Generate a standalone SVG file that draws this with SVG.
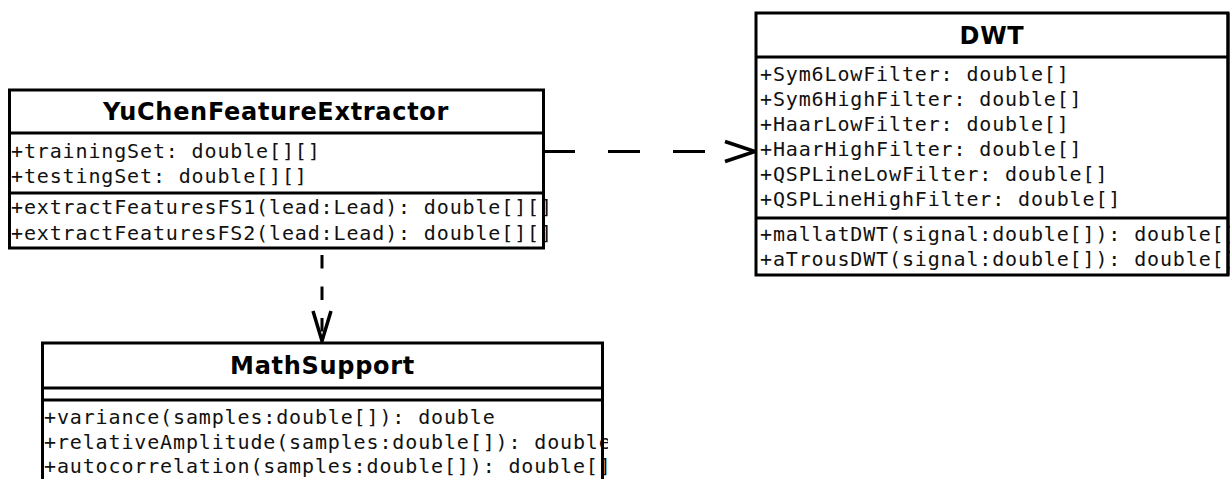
<svg xmlns="http://www.w3.org/2000/svg" width="1230" height="479" viewBox="0 0 1230 479">
<style>
.box{fill:#fff;stroke:#000;stroke-width:3}
.sep{stroke:#000;stroke-width:3}
.title{font-family:"DejaVu Sans","Liberation Sans",sans-serif;font-weight:bold;font-size:24px;text-anchor:middle;fill:#000;letter-spacing:0.7px}
.m{font-family:"DejaVu Sans Mono","Liberation Mono",monospace;font-size:20px;letter-spacing:0.86px;fill:#111}
.dep{fill:none;stroke:#000;stroke-width:3}
.head{fill:none;stroke:#000;stroke-width:3.5;stroke-linejoin:miter}
</style>
<defs>
<clipPath id="c1"><rect x="0" y="0" width="549" height="479"/></clipPath>
<clipPath id="c3"><rect x="0" y="0" width="608" height="479"/></clipPath>
</defs>
<rect width="1230" height="479" fill="#fff"/>
<g id="connectors">
<line class="dep" x1="543" y1="151.5" x2="705" y2="151.5" stroke-dasharray="32 33"/>
<polyline class="head" points="725,141.5 755,151.5 725,161.5"/>
<line class="dep" x1="322" y1="249" x2="322" y2="338" stroke-dasharray="0 6 13.5 12"/>
<polyline class="head" points="313,311 322,341 331,311"/>
</g>
<g id="YuChenFeatureExtractor">
<rect class="box" x="9.5" y="90" width="534" height="158"/>
<line class="sep" x1="9.5" y1="133" x2="543.5" y2="133"/>
<line class="sep" x1="9.5" y1="193" x2="543.5" y2="193"/>
<text class="title" x="276" y="120">YuChenFeatureExtractor</text>
<g clip-path="url(#c1)">
<text class="m" x="11" y="158">+trainingSet: double[][]</text>
<text class="m" x="11" y="183">+testingSet: double[][]</text>
<text class="m" x="11" y="214">+extractFeaturesFS1(lead:Lead): double[][]</text>
<text class="m" x="11" y="240">+extractFeaturesFS2(lead:Lead): double[][]</text>
</g>
<line class="sep" x1="543.5" y1="90" x2="543.5" y2="248"/>
</g>
<g id="DWT">
<rect class="box" x="756" y="13" width="472" height="262"/>
<line class="sep" x1="756" y1="57" x2="1228" y2="57"/>
<line class="sep" x1="756" y1="218" x2="1228" y2="218"/>
<text class="title" x="992" y="44">DWT</text>
<text class="m" x="760" y="81">+Sym6LowFilter: double[]</text>
<text class="m" x="760" y="106">+Sym6HighFilter: double[]</text>
<text class="m" x="760" y="131">+HaarLowFilter: double[]</text>
<text class="m" x="760" y="156">+HaarHighFilter: double[]</text>
<text class="m" x="760" y="181">+QSPLineLowFilter: double[]</text>
<text class="m" x="760" y="206">+QSPLineHighFilter: double[]</text>
<text class="m" x="760" y="241">+mallatDWT(signal:double[]): double[]</text>
<text class="m" x="760" y="266">+aTrousDWT(signal:double[]): double[]</text>
<line class="sep" x1="1228" y1="13" x2="1228" y2="275"/>
</g>
<g id="MathSupport">
<rect class="box" x="42.5" y="343" width="560" height="160"/>
<line class="sep" x1="42.5" y1="388" x2="602.5" y2="388"/>
<line class="sep" x1="42.5" y1="400" x2="602.5" y2="400"/>
<text class="title" x="322.5" y="374">MathSupport</text>
<g clip-path="url(#c3)">
<text class="m" x="44" y="424">+variance(samples:double[]): double</text>
<text class="m" x="44" y="448.5">+relativeAmplitude(samples:double[]): double</text>
<text class="m" x="44" y="473">+autocorrelation(samples:double[]): double[]</text>
</g>
<line class="sep" x1="602.5" y1="343" x2="602.5" y2="479"/>
</g>
</svg>
